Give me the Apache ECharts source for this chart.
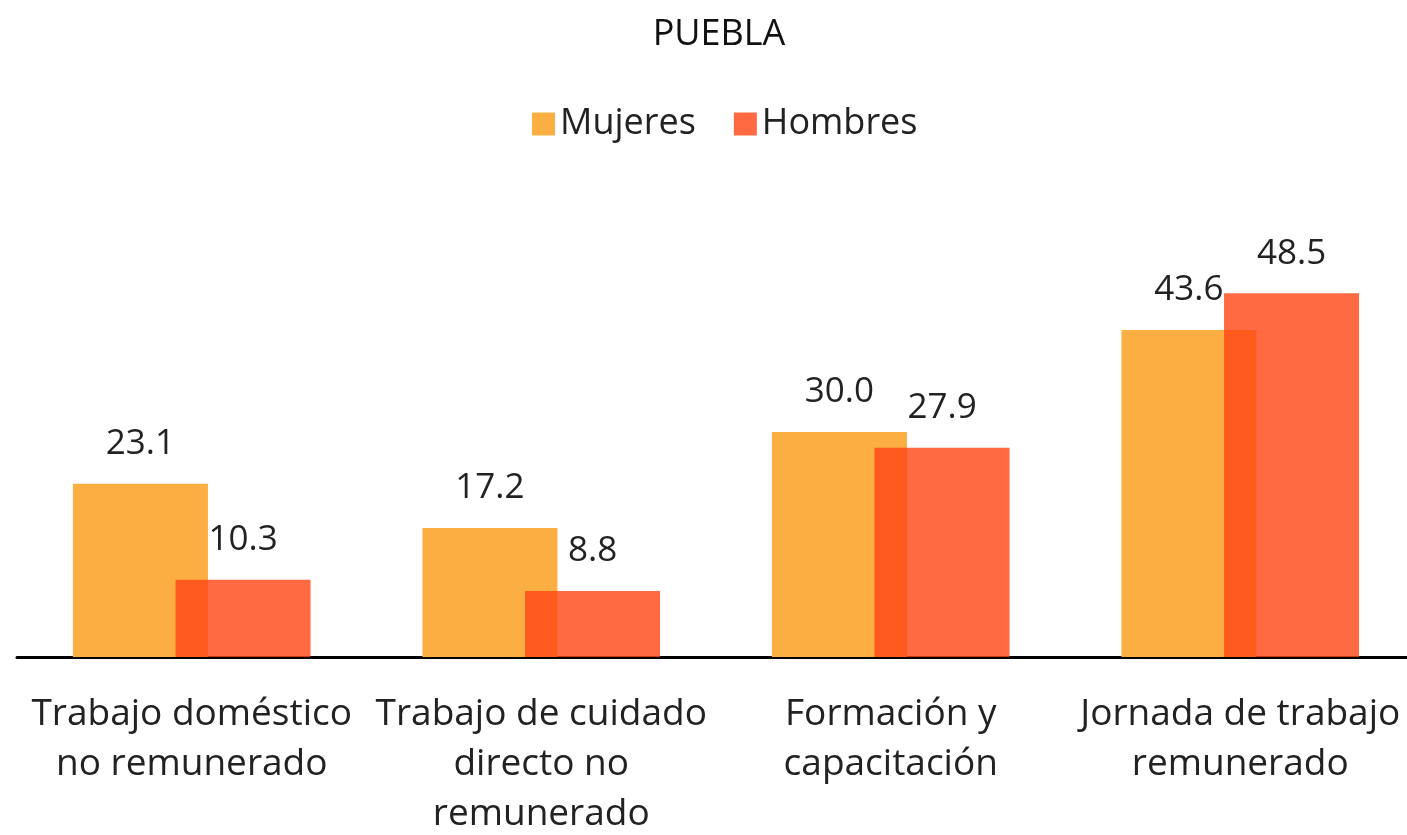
<!DOCTYPE html>
<html>
<head>
<meta charset="utf-8">
<script src="https://cdn.jsdelivr.net/npm/echarts@6/dist/echarts.min.js"></script>
<style>
  html, body { margin: 0; padding: 0; background: #fff; overflow: hidden; }
  #main { width: 1430px; height: 835px; }
</style>
</head>
<body>
<div id="main"></div>
<script>
// datos del gráfico
var categorias = [
  'Trabajo doméstico\nno remunerado',
  'Trabajo de cuidado\ndirecto no\nremunerado',
  'Formación y\ncapacitación',
  'Jornada de trabajo\nremunerado'
];
var mujeres = [23.1, 17.2, 30.0, 43.6];
var hombres = [10.3, 8.8, 27.9, 48.5];

var FONT = 'Open Sans';

var chart = echarts.init(document.getElementById('main'));

var etiqueta = {
  show: true,
  position: 'top',
  distance: 22,
  fontFamily: FONT,
  fontSize: 35,
  color: '#222',
  formatter: function (p) { return p.value.toFixed(1); }
};

var option = {
  backgroundColor: '#fff',
  title: {
    text: 'PUEBLA',
    left: 714,
    textAlign: 'center',
    top: 12,
    textStyle: { fontFamily: FONT, fontSize: 36, fontWeight: 'normal', color: '#111' }
  },
  legend: {
    data: ['Mujeres', 'Hombres'],
    left: 527,
    top: 101,
    itemWidth: 23,
    itemHeight: 23,
    itemGap: 38,
    icon: 'rect',
    textStyle: { fontFamily: FONT, fontSize: 36, color: '#222' }
  },
  grid: { left: 17, right: 15, top: 207, bottom: 178, outerBoundsMode: 'none', containLabel: false },
  xAxis: {
    type: 'category',
    data: categorias,
    axisLine: { lineStyle: { color: '#000', width: 3 } },
    axisTick: { show: false },
    axisLabel: {
      interval: 0,
      margin: 32,
      fontFamily: FONT,
      fontSize: 37,
      lineHeight: 50,
      color: '#222'
    }
  },
  yAxis: {
    type: 'value',
    min: 0,
    max: 60,
    show: false,
    splitLine: { show: false }
  },
  series: [
    {
      name: 'Mujeres',
      type: 'bar',
      data: mujeres,
      barWidth: 135,
      barGap: '-24%',
      itemStyle: { color: '#FBAE42' },
      label: etiqueta
    },
    {
      name: 'Hombres',
      type: 'bar',
      data: hombres,
      barWidth: 135,
      itemStyle: { color: 'rgba(255,69,20,0.8)' },
      label: etiqueta
    }
  ]
};

chart.setOption(option);
</script>
</body>
</html>
